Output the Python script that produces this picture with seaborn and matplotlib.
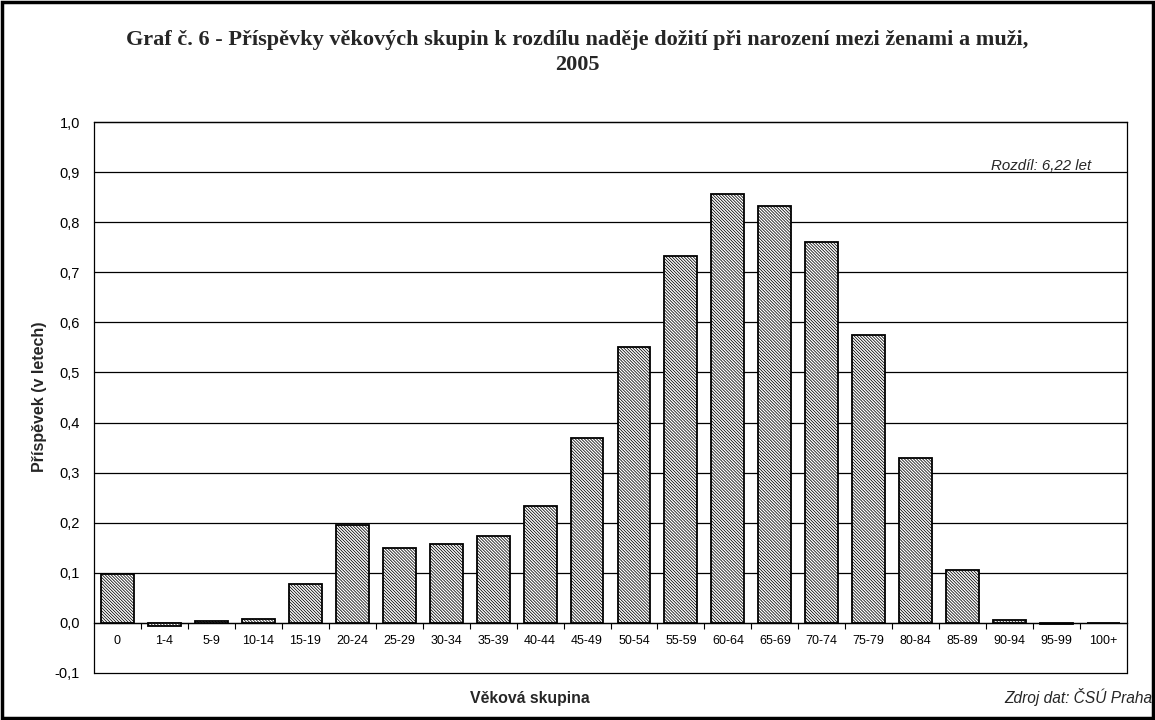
import matplotlib
matplotlib.use("Agg")
import matplotlib.pyplot as plt
import seaborn as sns
import pandas as pd
from matplotlib.ticker import FuncFormatter, FixedLocator
from matplotlib.patches import Rectangle

# Age groups and their contributions (years) to the female-male gap in life expectancy at birth
age_groups = ["0", "1-4", "5-9", "10-14", "15-19", "20-24", "25-29", "30-34", "35-39",
              "40-44", "45-49", "50-54", "55-59", "60-64", "65-69", "70-74", "75-79",
              "80-84", "85-89", "90-94", "95-99", "100+"]
contributions = [0.098, -0.006, 0.004, 0.007, 0.078, 0.196, 0.150, 0.158, 0.174,
                 0.234, 0.369, 0.551, 0.733, 0.856, 0.832, 0.760, 0.575,
                 0.329, 0.106, 0.005, -0.002, 0.0]
y_ticks = [-0.1, 0.0, 0.1, 0.2, 0.3, 0.4, 0.5, 0.6, 0.7, 0.8, 0.9, 1.0]

df = pd.DataFrame({"skupina": age_groups, "prispevek": contributions})

sns.set_theme(style="white")
plt.rcParams["font.family"] = ["Liberation Sans", "DejaVu Sans"]
plt.rcParams["hatch.linewidth"] = 0.55

fig = plt.figure(figsize=(11.55, 7.2), dpi=100)
ax = fig.add_axes([94 / 1155, 1 - 673 / 720, (1127 - 94) / 1155, (673 - 122) / 720])

sns.barplot(data=df, x="skupina", y="prispevek", order=age_groups, color="white",
            edgecolor="black", linewidth=1.3, width=0.7, hatch="\\" * 11,
            ax=ax, zorder=3)
for p in ax.patches:
    p.set_facecolor("white")
    p.set_edgecolor("black")

ax.set_ylim(-0.1, 1.0)
ax.set_xlim(-0.5, len(age_groups) - 0.5)
ax.yaxis.set_major_locator(FixedLocator(y_ticks))
ax.yaxis.set_major_formatter(FuncFormatter(lambda v, _: f"{v:.1f}".replace(".", ",")))
for v in y_ticks:
    ax.axhline(v, color="black", linewidth=0.9, zorder=1, clip_on=False)

# category axis runs along zero, with ticks between groups
ax.spines["bottom"].set_position(("data", 0))
for s in ax.spines.values():
    s.set_color("black")
    s.set_linewidth(0.9)
ax.set_xticks(range(len(age_groups)))
ax.set_xticklabels(age_groups)
ax.set_xticks([i + 0.5 for i in range(len(age_groups) - 1)], minor=True)
ax.tick_params(axis="x", which="major", length=0, pad=9, labelsize=9, colors="black")
ax.tick_params(axis="x", which="minor", length=4, width=0.8, direction="out",
               bottom=True, color="black")
ax.tick_params(axis="y", length=0, pad=10, labelsize=10.5, colors="black")
ax.set_xlabel("")
ax.set_ylabel("")

ax.text((1041 - 94) / 1033, 0.898, "Rozdíl: 6,22 let", transform=ax.get_yaxis_transform(),
        ha="center", va="bottom", fontsize=10.8, style="italic")

fig.text(40 / 1155, 1 - 397 / 720, "Příspěvek (v letech)", rotation=90, ha="center",
         va="center", fontsize=11.5, fontweight="bold")
fig.text(0.5, 1 - 40 / 720, "Graf č. 6 - Příspěvky věkových skupin k rozdílu naděje dožití při narození mezi ženami a muži,",
         ha="center", va="center", fontsize=16, fontweight="bold",
         family=["Liberation Serif", "DejaVu Serif"])
fig.text(0.5, 1 - 65 / 720, "2005", ha="center", va="center", fontsize=16,
         fontweight="bold", family=["Liberation Serif", "DejaVu Serif"])
fig.text(530 / 1155, 1 - 699 / 720, "Věková skupina", ha="center", va="center",
         fontsize=11.4, fontweight="bold")
fig.text(1152 / 1155, 1 - 697 / 720, "Zdroj dat: ČSÚ Praha", ha="right", va="center",
         fontsize=11.2, style="italic")

# outer frame
fig.patches.append(Rectangle((0.002, 0.003), 0.996, 0.994, transform=fig.transFigure,
                             fill=False, edgecolor="black", linewidth=2.5))

fig.savefig("out.png", dpi=100)
